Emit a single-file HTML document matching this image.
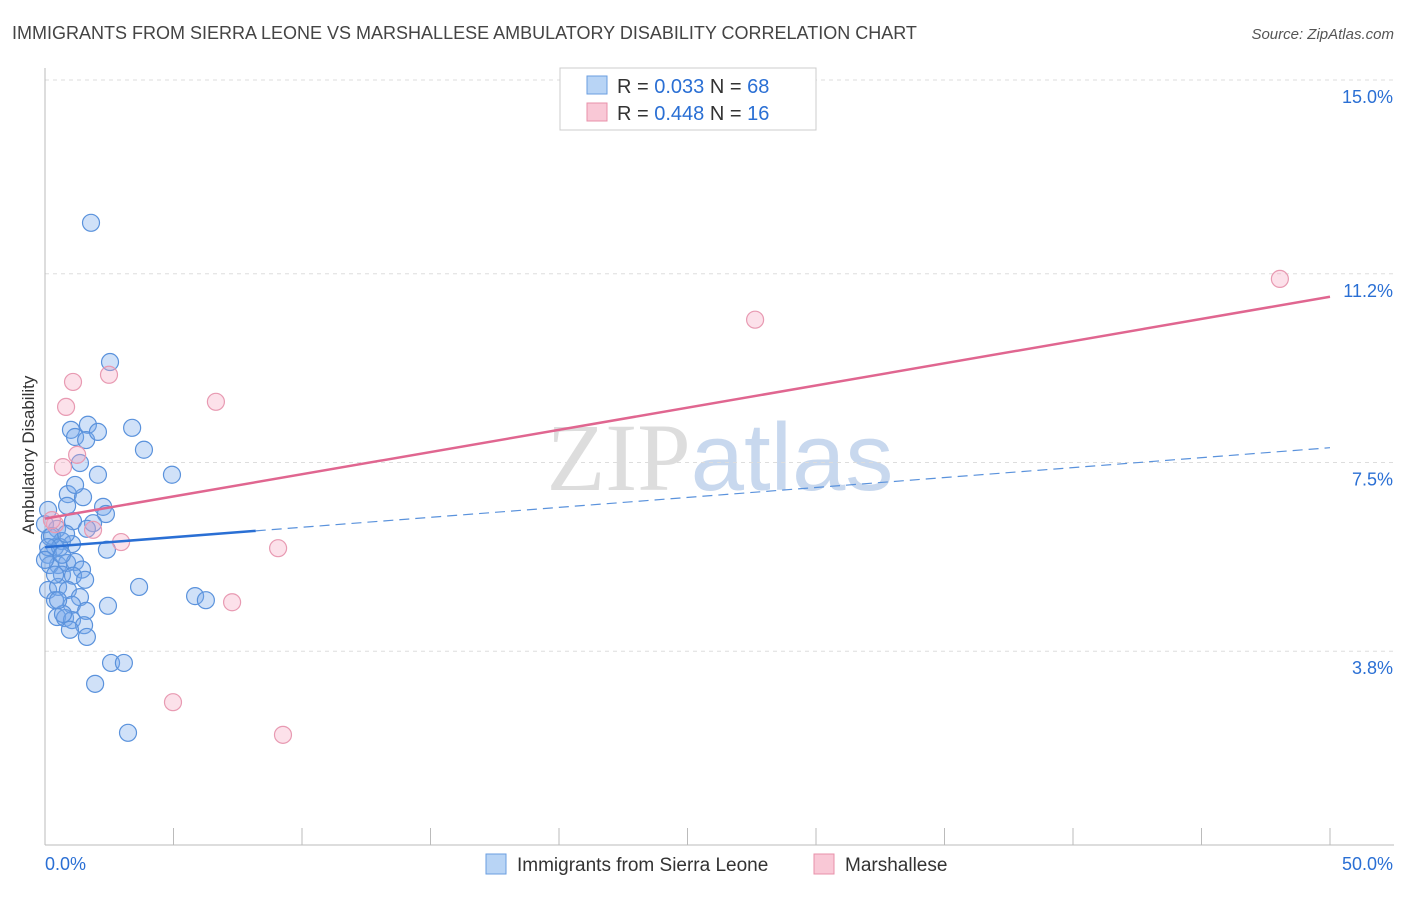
<!DOCTYPE html>
<html><head><meta charset="utf-8">
<style>
body{margin:0;background:#fff;font-family:"Liberation Sans",sans-serif;}
svg text{font-family:"Liberation Sans",sans-serif;}
</style></head>
<body>
<svg id="chart" width="1406" height="892" xmlns="http://www.w3.org/2000/svg">
<text x="12" y="39" font-size="18" fill="#444">IMMIGRANTS FROM SIERRA LEONE VS MARSHALLESE AMBULATORY DISABILITY CORRELATION CHART</text>
<text x="1394" y="39" font-size="15" fill="#555" text-anchor="end" font-style="italic">Source: ZipAtlas.com</text>
<text transform="translate(34,455) rotate(-90)" font-size="17" fill="#333" text-anchor="middle">Ambulatory Disability</text>
<text x="720" y="490" font-size="96" text-anchor="middle"><tspan fill="#ddd" font-family="Liberation Serif">ZIP</tspan><tspan fill="#c8d8ee">atlas</tspan></text>
<g id="grid"></g><g id="axes"></g><g id="pts"></g><g id="lines"></g>
<g>
<rect x="560" y="68" width="256" height="62" fill="#fff" stroke="#ccc"/>
<rect x="587" y="76" width="20" height="18" fill="#b8d4f5" stroke="#6a9ee0"/>
<rect x="587" y="103" width="20" height="18" fill="#f9c8d6" stroke="#e890aa"/>
<text x="617" y="93" font-size="20" fill="#333">R = <tspan fill="#2a6fd4">0.033</tspan>   N = <tspan fill="#2a6fd4">68</tspan></text>
<text x="617" y="120" font-size="20" fill="#333">R = <tspan fill="#2a6fd4">0.448</tspan>   N = <tspan fill="#2a6fd4">16</tspan></text>
</g>
<g>
<rect x="486" y="854" width="20" height="20" fill="#b8d4f5" stroke="#6a9ee0"/>
<text x="517" y="871" font-size="19" fill="#333">Immigrants from Sierra Leone</text>
<rect x="814" y="854" width="20" height="20" fill="#f9c8d6" stroke="#e890aa"/>
<text x="845" y="871" font-size="19" fill="#333">Marshallese</text>
</g>
</svg>
<script>
const yTicks=[15.0,11.2,7.5,3.8];
const yTickLabels=["15.0%","11.2%","7.5%","3.8%"];
const xTickLabels=["0.0%","50.0%"];
const blueX=[1.79,2.53,3.39,3.85,4.94,1.67,1.01,1.17,1.60,2.06,1.36,2.06,0.89,1.48,1.17,0.86,2.26,2.37,0.12,1.09,1.87,0.47,0.19,0.66,1.05,0.39,0.12,2.41,1.63,0.51,0.19,0.86,1.17,1.44,0.66,1.09,0.12,0.51,0.89,1.36,0.39,1.05,1.60,2.45,3.66,5.84,6.26,0.47,0.78,1.05,1.52,0.97,1.63,2.57,3.07,1.95,3.23,0.0,0.27,0.58,0.12,0.39,0.70,0.0,0.66,0.51,1.56,0.82];
const blueY=[12.2,9.47,8.18,7.75,7.26,8.24,8.14,8.0,7.94,8.1,7.49,7.26,6.88,6.82,7.06,6.65,6.63,6.49,6.57,6.35,6.31,6.2,6.04,5.96,5.9,5.84,5.69,5.79,6.2,5.49,5.49,5.53,5.55,5.4,5.3,5.28,5.0,5.06,5.0,4.86,4.8,4.71,4.59,4.69,5.06,4.88,4.8,4.47,4.45,4.41,4.31,4.22,4.08,3.57,3.57,3.16,2.2,6.29,6.06,5.84,5.84,5.3,4.53,5.59,5.69,4.8,5.2,6.1];
const pinkX=[48.05,27.63,1.09,2.49,0.82,6.65,0.70,1.25,0.39,1.87,2.96,9.07,7.28,4.98,9.26,0.27];
const pinkY=[11.1,10.3,9.08,9.22,8.59,8.69,7.41,7.65,6.29,6.18,5.94,5.82,4.76,2.8,2.16,6.37];
const blueFit=[5.84,0.039];
const pinkFit=[6.4,0.087];
const X=v=>45+v*25.7, Y=v=>845-v*51.0;
const ns="http://www.w3.org/2000/svg";
function mk(t,a,p){const e=document.createElementNS(ns,t);for(const k in a)e.setAttribute(k,a[k]);p.appendChild(e);return e;}
const grid=document.getElementById('grid'),axes=document.getElementById('axes'),pts=document.getElementById('pts'),lines=document.getElementById('lines');
yTicks.forEach((v,i)=>{
 const g=mk('line',{x1:45,x2:1394,y1:Y(v),y2:Y(v),stroke:'#ddd','stroke-dasharray':'4,4'},grid);
 
 
 const t=mk('text',{x:1393,y:Y(v)+23,'font-size':18,fill:'#2a6fd4','text-anchor':'end'},axes);t.textContent=yTickLabels[i];
 
 
});
mk('line',{x1:45,x2:45,y1:68,y2:845,stroke:'#bbb'},axes);
const xa=mk('line',{x1:45,x2:1394,y1:845,y2:845,stroke:'#bbb'},axes);


for(let i=0;i<=10;i++){mk('line',{x1:X(i*5),x2:X(i*5),y1:828,y2:845,stroke:'#bbb'},axes);}
let t1=mk('text',{x:45,y:870,'font-size':18,fill:'#2a6fd4'},axes);t1.textContent=xTickLabels[0];


let t2=mk('text',{x:1393,y:870,'font-size':18,fill:'#2a6fd4','text-anchor':'end'},axes);t2.textContent=xTickLabels[1];


blueX.forEach((v,i)=>{const c=mk('circle',{cx:X(v),cy:Y(blueY[i]),r:8.5,fill:'rgba(120,170,235,0.35)',stroke:'#5a92dc','stroke-width':1.2},pts);
 
 });
pinkX.forEach((v,i)=>{const c=mk('circle',{cx:X(v),cy:Y(pinkY[i]),r:8.5,fill:'rgba(245,170,195,0.35)',stroke:'#e89ab2','stroke-width':1.2},pts);
 
 });
const f=(fit,x)=>fit[0]+fit[1]*x;
let l=mk('line',{x1:X(0),y1:Y(f(pinkFit,0)),x2:X(50),y2:Y(f(pinkFit,50)),stroke:'#e06690','stroke-width':2.5},lines);


l=mk('line',{x1:X(0),y1:Y(f(blueFit,0)),x2:X(8.2),y2:Y(f(blueFit,8.2)),stroke:'#2a6fd4','stroke-width':2.5},lines);


l=mk('line',{x1:X(8.2),y1:Y(f(blueFit,8.2)),x2:X(50),y2:Y(f(blueFit,50)),stroke:'#5a92dc','stroke-width':1.2,'stroke-dasharray':'10,6'},lines);


</script>
</body></html>
